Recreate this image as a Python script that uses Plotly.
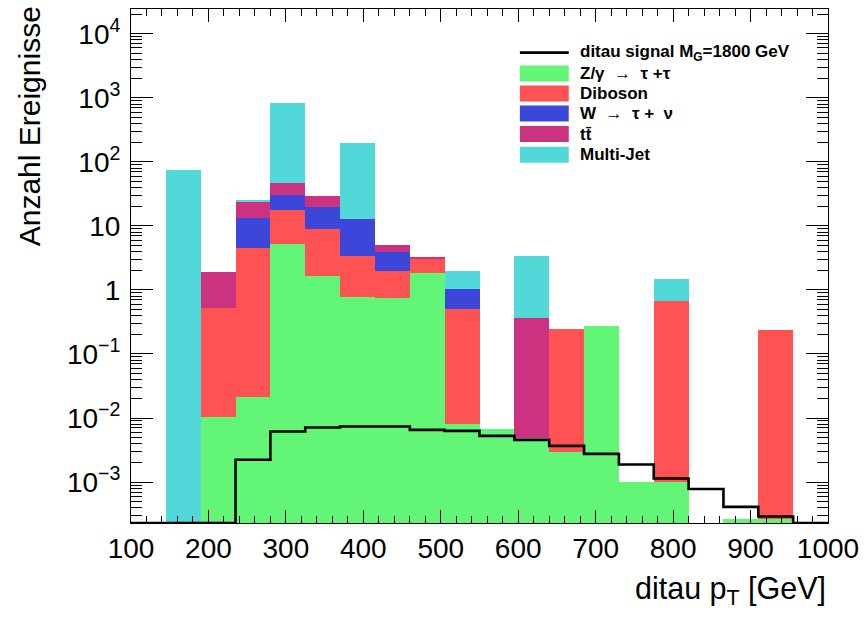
import plotly.graph_objects as go

# Binning: 20 bins of 45 GeV between 100 and 1000 GeV
bin_edges = [100 + 45 * i for i in range(21)]
bin_centers = [(a + b) / 2 for a, b in zip(bin_edges[:-1], bin_edges[1:])]
bin_width = 45

# Background yields per bin (stacked bottom to top)
z_gamma_tautau = [0, 0, 0.0102, 0.021, 5.31, 1.64, 0.78, 0.75, 1.85, 0.0081,
                  0.0067, 0.00485, 0.0030, 0.276, 0.00099, 0.00102, 0, 0.000265, 0.000265, 0]
diboson = [0, 0, 0.505, 4.42, 12.2, 7.46, 2.62, 1.24, 1.17, 0.489,
           0, 0, 0.242, 0, 0, 0.669, 0, 0, 0.237, 0]
w_taunu = [0, 0, 0, 8.86, 12.5, 10.6, 9.3, 1.94, 0, 0.533,
           0, 0, 0, 0, 0, 0, 0, 0, 0, 0]
ttbar = [0, 0, 1.40, 10.9, 16.7, 9.2, 0, 1.06, 0.26, 0,
         0, 0.355, 0, 0, 0, 0, 0, 0, 0, 0]
multijet = [0, 74, 0, 1.5, 777, 0, 186, 0, 0, 0.96,
            0, 3.01, 0, 0, 0, 0.82, 0, 0, 0, 0]

# Signal expectation per bin
signal = [0, 0, 0, 0.00223, 0.00615, 0.00710, 0.00736, 0.00736, 0.00653, 0.00630,
          0.00527, 0.00456, 0.00368, 0.00276, 0.00188, 0.00114, 0.00078, 0.00041, 0.00029, 0]

y_tick_vals = [1e-3, 1e-2, 1e-1, 1, 10, 1e2, 1e3, 1e4]
y_tick_text = ["10<sup>\u22123</sup>", "10<sup>\u22122</sup>", "10<sup>\u22121</sup>", "1", "10",
               "10<sup>2</sup>", "10<sup>3</sup>", "10<sup>4</sup>"]
x_tick_vals = list(range(100, 1001, 100))

Y_LOG_MIN, Y_LOG_MAX = -3.639, 4.387

backgrounds = [
    ("Z/\u03b3  \u2192  \u03c4 +\u03c4", z_gamma_tautau, "#63f576"),
    ("Diboson", diboson, "#ff5252"),
    ("W  \u2192  \u03c4 +  \u03bd", w_taunu, "#3c46d9"),
    ("tt\u0304", ttbar, "#cb3280"),
    ("Multi-Jet", multijet, "#52d8d8"),
]
signal_name = "ditau signal M<sub>G</sub>=1800 GeV"

fig = go.Figure()
for name, vals, color in backgrounds:
    fig.add_trace(go.Bar(
        x=bin_centers, y=vals, width=bin_width, name=name,
        marker=dict(color=color, line=dict(width=0)),
        showlegend=False,
    ))

# Signal as a step outline; empty bins sit on the lower edge of the frame
floor = 10 ** Y_LOG_MIN
sig_plot = [v if v > 0 else floor for v in signal]
fig.add_trace(go.Scatter(
    x=bin_edges, y=sig_plot + [sig_plot[-1]], mode="lines", line_shape="hv",
    line=dict(color="black", width=2.6), name=signal_name, showlegend=False,
    cliponaxis=True,
))

W, H = 867, 621
L, R, T, B = 131, 830, 8, 523


def px_x(p):
    return (p - L) / (R - L)


def px_y(p):
    return (B - p) / (B - T)


font_family = "Liberation Sans, Arial, Helvetica, sans-serif"

shapes = []
annotations = []

# Legend block
row_y = [51.7, 72.7, 92.7, 112.7, 133.3, 154.0]
box_x0, box_x1, text_x = 521, 570, 579
shapes.append(dict(type="line", xref="paper", yref="paper",
                   x0=px_x(box_x0), x1=px_x(box_x1), y0=px_y(row_y[0]), y1=px_y(row_y[0]),
                   line=dict(color="black", width=2.6)))
annotations.append(dict(xref="paper", yref="paper", x=px_x(text_x), y=px_y(row_y[0]),
                        xanchor="left", yanchor="middle", showarrow=False,
                        text="<b>" + signal_name + "</b>",
                        font=dict(family=font_family, size=17, color="black")))
for (name, _, color), ry in zip(backgrounds, row_y[1:]):
    shapes.append(dict(type="rect", xref="paper", yref="paper",
                       x0=px_x(box_x0), x1=px_x(box_x1), y0=px_y(ry + 8), y1=px_y(ry - 8),
                       fillcolor=color, line=dict(width=0)))
    annotations.append(dict(xref="paper", yref="paper", x=px_x(text_x), y=px_y(ry),
                            xanchor="left", yanchor="middle", showarrow=False,
                            text="<b>" + name + "</b>",
                            font=dict(family=font_family, size=17, color="black")))

# Axis titles
annotations.append(dict(xref="paper", yref="paper", x=1.0, y=px_y(591),
                        xanchor="right", yanchor="middle", showarrow=False,
                        text="ditau p<sub>T</sub> [GeV]",
                        font=dict(family=font_family, size=30.5, color="black")))
annotations.append(dict(xref="paper", yref="paper", x=px_x(29), y=px_y(3),
                        xanchor="center", yanchor="top", showarrow=False, textangle=-90,
                        text="Anzahl Ereignisse",
                        font=dict(family=font_family, size=30, color="black")))

fig.update_layout(
    width=W, height=H,
    margin=dict(l=L, r=W - R, t=T, b=H - B),
    barmode="stack", bargap=0,
    plot_bgcolor="white", paper_bgcolor="white",
    showlegend=False,
    font=dict(family=font_family, size=28, color="black"),
    shapes=shapes, annotations=annotations,
)
fig.update_xaxes(
    range=[100, 1000], tickvals=x_tick_vals, ticks="inside", ticklen=13, tickwidth=1,
    tickcolor="black", showline=True, linecolor="black", linewidth=1, mirror="allticks",
    showgrid=False, zeroline=False, tickfont=dict(size=28),
    minor=dict(ticks="inside", ticklen=7, dtick=20, tick0=100, tickcolor="black", showgrid=False),
)
fig.update_yaxes(
    type="log", range=[Y_LOG_MIN, Y_LOG_MAX], tickvals=y_tick_vals, ticktext=y_tick_text,
    ticks="inside", ticklen=22, tickwidth=1, tickcolor="black",
    showline=True, linecolor="black", linewidth=1, mirror="allticks",
    showgrid=False, zeroline=False, tickfont=dict(size=28), ticklabelstandoff=4,
    minor=dict(ticks="inside", ticklen=11, dtick="D1", tickcolor="black", showgrid=False),
)

fig.write_html("out.html")
